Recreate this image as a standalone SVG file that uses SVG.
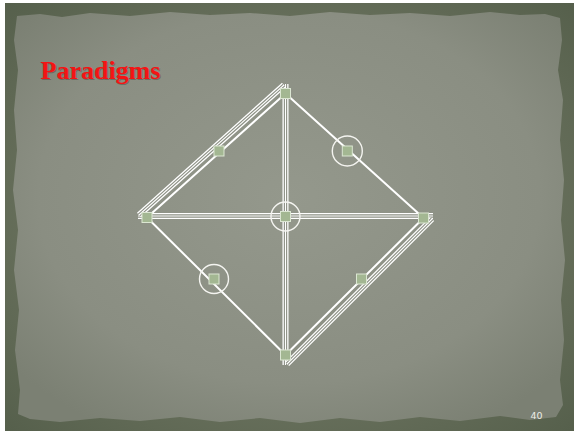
<svg xmlns="http://www.w3.org/2000/svg" width="574" height="431" viewBox="0 0 574 431">
<defs>
<radialGradient id="paper" cx="50%" cy="45%" r="65%">
<stop offset="0" stop-color="#94988c"/>
<stop offset="0.7" stop-color="#8a8e82"/>
<stop offset="1" stop-color="#7b8073"/>
</radialGradient>
<radialGradient id="frame" cx="50%" cy="50%" r="70%">
<stop offset="0.6" stop-color="#68705c"/>
<stop offset="1" stop-color="#56604c"/>
</radialGradient>
<style>
.edge{stroke:#ffffff;stroke-width:2;fill:none;stroke-linecap:round}
.tri1{stroke:#ffffff;stroke-width:6;fill:none}
.tri2{stroke:#8c9084;stroke-width:3.4;fill:none}
.tri3{stroke:#ffffff;stroke-width:1.1;fill:none}
.sq{fill:#a3b792;stroke:#dbe6d2;stroke-width:1}
.ring{fill:none;stroke:#f4f4f0;stroke-width:1.4}
.title{font-family:"Liberation Serif","Times New Roman",serif;font-weight:bold;font-size:26px;fill:#f41414}
.shadow{fill:#3a3028;opacity:0.35}
.num{font-family:"DejaVu Sans","Liberation Sans",sans-serif;font-size:9.5px;fill:#ececE6}
</style>
</defs>
<rect x="0" y="0" width="574" height="431" fill="#ffffff"/>
<rect x="5" y="3" width="569" height="428" fill="url(#frame)"/>
<path d="M17,16 L40,14 L62,17 L90,13 L130,16 L170,12 L210,15 L250,13 L290,16 L330,12 L370,15 L410,13 L450,16 L490,12 L520,15 L545,14 L560,18 L562,40 L558,70 L563,100 L560,140 L564,180 L561,220 L565,260 L561,300 L564,340 L560,380 L563,405 L556,417 L530,420 L500,416 L460,421 L420,417 L380,422 L340,418 L300,423 L260,418 L220,422 L180,417 L140,421 L100,418 L60,422 L30,419 L18,414 L20,390 L15,350 L19,310 L14,270 L18,230 L13,190 L17,150 L14,110 L18,70 L14,40 Z" fill="url(#paper)"/>
<text class="title shadow" x="41.5" y="79.5">Paradigms</text>
<text class="title" x="40.5" y="78.5">Paradigms</text>
<g id="connectors">
<g id="vertical">
<line class="tri1" x1="285.5" y1="84" x2="285.5" y2="365"/>
<line class="tri2" x1="285.5" y1="84" x2="285.5" y2="365"/>
<line class="tri3" x1="285.5" y1="84" x2="285.5" y2="365"/>
</g>
<g id="horizontal">
<line class="tri1" x1="138" y1="216" x2="433" y2="216"/>
<line class="tri2" x1="138" y1="216" x2="433" y2="216"/>
<line class="tri3" x1="138" y1="216" x2="433" y2="216"/>
</g>
<g id="top-left-multi">
<line class="tri1" x1="139" y1="215" x2="284" y2="85"/>
<line class="tri2" x1="139" y1="215" x2="284" y2="85"/>
<line class="tri3" x1="139" y1="215" x2="284" y2="85"/>
</g>
<g id="right-bottom-multi">
<line class="tri1" x1="432" y1="219" x2="287" y2="364"/>
<line class="tri2" x1="432" y1="219" x2="287" y2="364"/>
<line class="tri3" x1="432" y1="219" x2="287" y2="364"/>
</g>
<line class="edge" x1="147" y1="217.5" x2="285.5" y2="93.5"/>
<line class="edge" x1="285.5" y1="93.5" x2="423.5" y2="218"/>
<line class="edge" x1="147" y1="217.5" x2="285.5" y2="355"/>
<line class="edge" x1="423.5" y1="218" x2="285.5" y2="355"/>
</g>
<g id="node-top"><rect class="sq" x="280.5" y="88.5" width="10" height="10"/></g>
<g id="node-left"><rect class="sq" x="142" y="212.5" width="10" height="10"/></g>
<g id="node-center"><rect class="sq" x="280.5" y="211.5" width="10" height="10"/><circle class="ring" cx="285.5" cy="216.5" r="14.5"/></g>
<g id="node-right"><rect class="sq" x="418.5" y="213" width="10" height="10"/></g>
<g id="node-bottom"><rect class="sq" x="280.5" y="350" width="10" height="10"/></g>
<g id="node-upper-left"><rect class="sq" x="214" y="146" width="10" height="10"/></g>
<g id="node-upper-right"><rect class="sq" x="342.3" y="146" width="10" height="10"/><circle class="ring" cx="347.3" cy="151" r="15"/></g>
<g id="node-lower-left"><rect class="sq" x="209" y="274" width="10" height="10"/><circle class="ring" cx="214" cy="279" r="14.5"/></g>
<g id="node-lower-right"><rect class="sq" x="356.5" y="274" width="10" height="10"/></g>
<text class="num" x="530.5" y="419">40</text>
</svg>
